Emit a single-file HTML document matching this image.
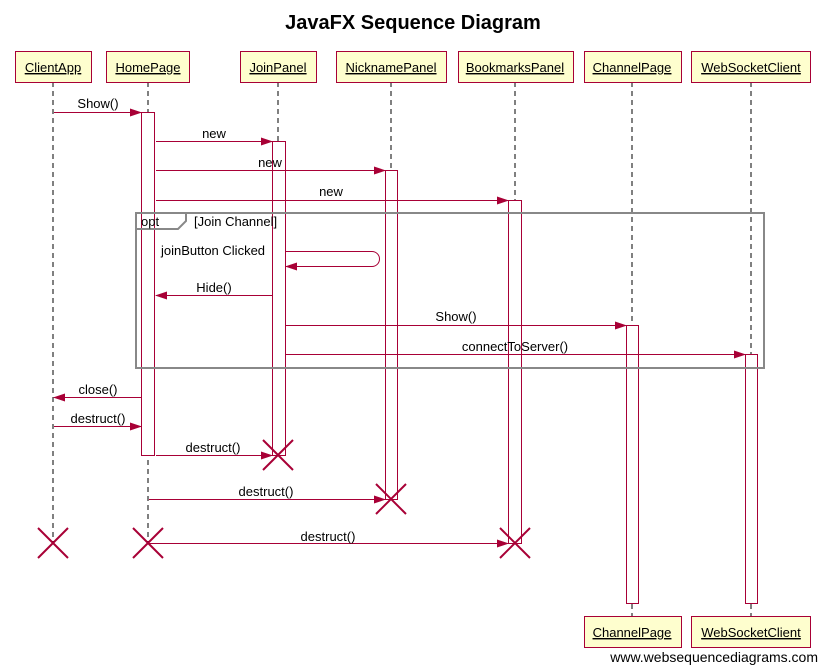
<!DOCTYPE html>
<html><head><style>body{margin:0;background:#fff}svg{display:block}text{font-family:"Liberation Sans",sans-serif;font-size:13px;fill:#000}</style></head><body>
<svg width="826" height="671" viewBox="0 0 826 671" xmlns="http://www.w3.org/2000/svg">
<defs><marker id="a" markerWidth="12" markerHeight="8" refX="11" refY="4" orient="auto" markerUnits="userSpaceOnUse"><path d="M0,0L12,4L0,8z" fill="#a80036"/></marker></defs>
<text x="413" y="29" text-anchor="middle" style="font-size:20px;font-weight:bold">JavaFX Sequence Diagram</text>
<g stroke="#000" stroke-dasharray="5,4" fill="none">
<line x1="53" y1="82" x2="53" y2="543"/><line x1="148" y1="82" x2="148" y2="543"/><line x1="278" y1="82" x2="278" y2="455"/><line x1="391" y1="82" x2="391" y2="499"/><line x1="515" y1="82" x2="515" y2="543"/><line x1="632" y1="82" x2="632" y2="616"/><line x1="751" y1="82" x2="751" y2="616"/>
</g>
<g fill="#fefece" stroke="#a80036">
<rect x="15.5" y="51.5" width="76" height="31"/><rect x="106.5" y="51.5" width="83" height="31"/><rect x="240.5" y="51.5" width="76" height="31"/><rect x="336.5" y="51.5" width="110" height="31"/><rect x="458.5" y="51.5" width="115" height="31"/><rect x="584.5" y="51.5" width="97" height="31"/><rect x="691.5" y="51.5" width="119" height="31"/>
<rect x="584.5" y="616.5" width="97" height="31"/><rect x="691.5" y="616.5" width="119" height="31"/>
</g>
<g text-anchor="middle" text-decoration="underline">
<text x="53" y="72" text-decoration="underline">ClientApp</text><text x="148" y="72" text-decoration="underline">HomePage</text><text x="278" y="72" text-decoration="underline">JoinPanel</text><text x="391" y="72" text-decoration="underline">NicknamePanel</text><text x="515" y="72" text-decoration="underline">BookmarksPanel</text><text x="632" y="72" text-decoration="underline">ChannelPage</text><text x="751" y="72" text-decoration="underline">WebSocketClient</text>
<text x="632" y="637" text-decoration="underline">ChannelPage</text><text x="751" y="637" text-decoration="underline">WebSocketClient</text>
</g>
<g fill="#fff" stroke="#a80036">
<rect x="141.5" y="112.5" width="13" height="343"/><rect x="272.5" y="141.5" width="13" height="314"/><rect x="385.5" y="170.5" width="12" height="329"/><rect x="508.5" y="200.5" width="13" height="343"/><rect x="626.5" y="325.5" width="12" height="278"/><rect x="745.5" y="354.5" width="12" height="249"/>
</g>
<g stroke="#888" stroke-width="2" fill="none">
<rect x="136" y="213" width="628" height="155"/><path d="M136,229H178L186,221V213"/>
</g>
<text x="141" y="226">opt</text><text x="194" y="226">[Join Channel]</text>
<g stroke="#a80036" fill="none" marker-end="url(#a)">
<line x1="54" y1="112.5" x2="141" y2="112.5"/>
<line x1="156" y1="141.5" x2="272" y2="141.5"/>
<line x1="156" y1="170.5" x2="385" y2="170.5"/>
<line x1="156" y1="200.5" x2="508" y2="200.5"/>
<path d="M286,251.5H372A7,7 0 0 1 372,266.5H286"/>
<line x1="272" y1="295.5" x2="156" y2="295.5"/>
<line x1="286" y1="325.5" x2="626" y2="325.5"/>
<line x1="286" y1="354.5" x2="745" y2="354.5"/>
<line x1="141" y1="397.5" x2="54" y2="397.5"/>
<line x1="54" y1="426.5" x2="141" y2="426.5"/>
<line x1="156" y1="455.5" x2="272" y2="455.5"/>
<line x1="149" y1="499.5" x2="385" y2="499.5"/>
<line x1="149" y1="543.5" x2="508" y2="543.5"/>
</g>
<g stroke="#a80036" stroke-width="2">
<path d="M263,440L293,470M293,440L263,470"/><path d="M376,484L406,514M406,484L376,514"/><path d="M500,528L530,558M530,528L500,558"/><path d="M38,528L68,558M68,528L38,558"/><path d="M133,528L163,558M163,528L133,558"/>
</g>
<g text-anchor="middle">
<text x="98" y="108">Show()</text><text x="214" y="138">new</text><text x="270" y="167">new</text><text x="331" y="196">new</text>
<text x="213" y="255">joinButton Clicked</text><text x="214" y="292">Hide()</text><text x="456" y="321">Show()</text><text x="515" y="351">connectToServer()</text>
<text x="98" y="394">close()</text><text x="98" y="423">destruct()</text><text x="213" y="452">destruct()</text><text x="266" y="496">destruct()</text><text x="328" y="541">destruct()</text>
</g>
<text x="818" y="662" text-anchor="end" style="font-size:14px">www.websequencediagrams.com</text>
</svg>
</body></html>
